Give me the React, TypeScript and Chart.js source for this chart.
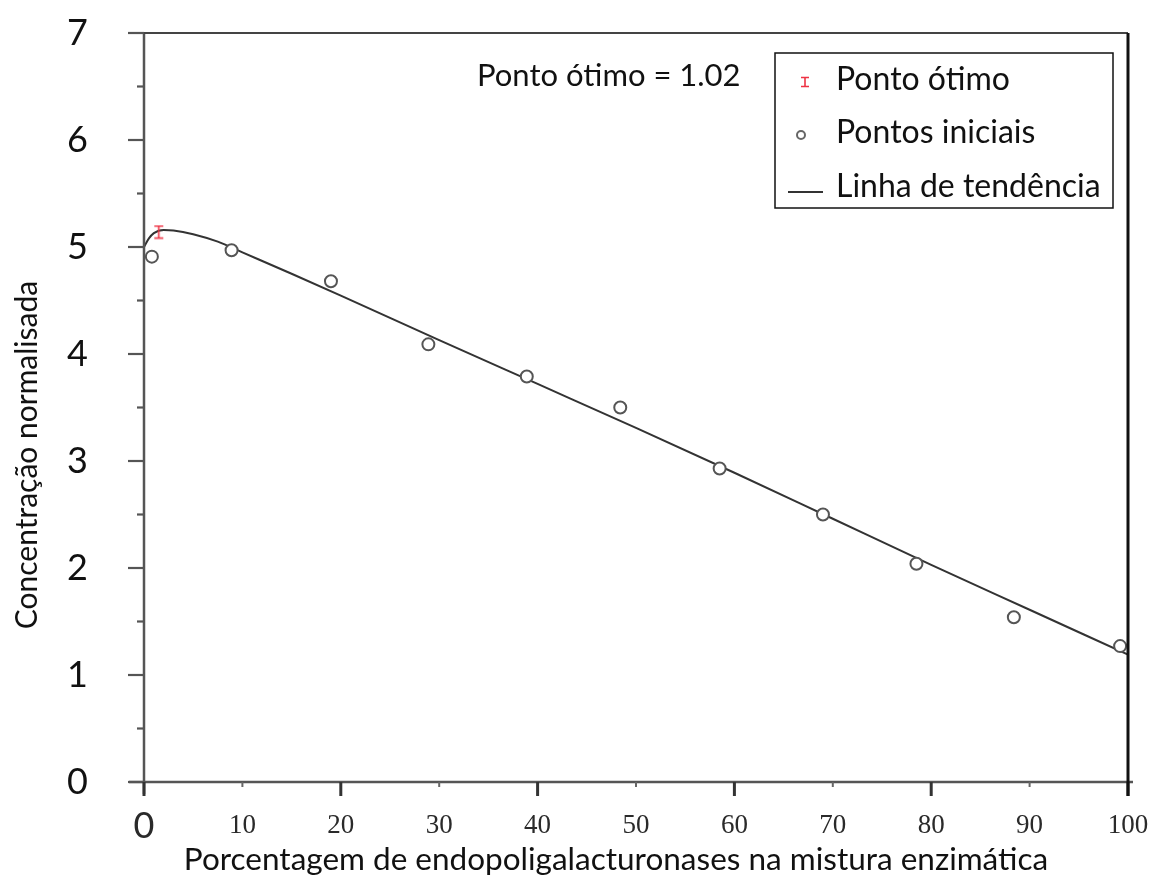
import React, { useEffect, useRef } from 'react';
import { Chart, registerables } from 'chart.js';

Chart.register(...registerables);

// ---------- data ----------
const initialX = [0.8, 8.9, 19.0, 28.9, 38.9, 48.4, 58.5, 69.0, 78.5, 88.4, 99.2];
const initialY = [4.91, 4.97, 4.68, 4.09, 3.79, 3.5, 2.93, 2.5, 2.04, 1.54, 1.27];

const optimumX = [1.5];
const optimumY = [5.14];

const trendX = [0, 0.5, 1, 2, 3, 5, 7.5, 10, 15, 20, 30, 40, 50, 60, 70, 80, 90, 100];
const trendY = [5.0, 5.08, 5.13, 5.16, 5.155, 5.12, 5.05, 4.95, 4.75, 4.545, 4.13, 3.72, 3.31, 2.89, 2.46, 2.03, 1.61, 1.19];

const xTickValues = [0, 10, 20, 30, 40, 50, 60, 70, 80, 90, 100];
const xTickLabels = ['0', '10', '20', '30', '40', '50', '60', '70', '80', '90', '100'];
const yTickValues = [0, 1, 2, 3, 4, 5, 6, 7];
const yTickLabels = ['0', '1', '2', '3', '4', '5', '6', '7'];

const xMajorMarks = [0, 20, 40, 60, 80, 100];
const xMinorMarks = [10, 30, 50, 70, 90];
const yMajorMarks = [0, 1, 2, 3, 4, 5, 6, 7];
const yMinorMarks = [0.5, 1.5, 2.5, 3.5, 4.5, 5.5, 6.5];

const legendLabels = ['Ponto ótimo', 'Pontos iniciais', 'Linha de tendência'];
const annotationText = 'Ponto ótimo = 1.02';
const xTitle = 'Porcentagem de endopoligalacturonases na mistura enzimática';
const yTitle = 'Concentração normalisada';

const SANS = 'Lato, "Noto Sans", sans-serif';
const SERIF = '"Liberation Serif", "DejaVu Serif", serif';
const RED = '#ee3344';

function makeIBeam(h: number, w: number): HTMLCanvasElement {
  const c = document.createElement('canvas');
  c.width = w + 2;
  c.height = h + 2;
  const g = c.getContext('2d')!;
  g.strokeStyle = RED;
  g.lineWidth = 1.6;
  const cx = c.width / 2;
  g.beginPath();
  g.moveTo(cx, 1);
  g.lineTo(cx, h + 1);
  g.moveTo(1, 1.5);
  g.lineTo(w + 1, 1.5);
  g.moveTo(1, h + 0.5);
  g.lineTo(w + 1, h + 0.5);
  g.stroke();
  return c;
}

const framePlugin = {
  id: 'frame',
  afterDatasetsDraw(chart: any) {
    const { ctx, chartArea, scales } = chart;
    const { left, right, top, bottom } = chartArea;
    const xs = scales.x;
    const ys = scales.y;
    ctx.save();
    ctx.lineCap = 'butt';

    // left axis
    ctx.strokeStyle = '#555';
    ctx.lineWidth = 2.5;
    ctx.beginPath();
    ctx.moveTo(left, top);
    ctx.lineTo(left, bottom + 12);
    ctx.stroke();

    // bottom axis
    ctx.beginPath();
    ctx.moveTo(left - 15, bottom);
    ctx.lineTo(right + 5, bottom);
    ctx.stroke();

    // top border
    ctx.strokeStyle = '#444';
    ctx.lineWidth = 2;
    ctx.beginPath();
    ctx.moveTo(left - 15, top);
    ctx.lineTo(right, top);
    ctx.stroke();

    // y ticks
    ctx.strokeStyle = '#555';
    ctx.lineWidth = 2.2;
    yMajorMarks.forEach((v) => {
      const py = ys.getPixelForValue(v);
      ctx.beginPath();
      ctx.moveTo(left - 16, py);
      ctx.lineTo(left, py);
      ctx.stroke();
    });
    yMinorMarks.forEach((v) => {
      const py = ys.getPixelForValue(v);
      ctx.beginPath();
      ctx.moveTo(left - 7, py);
      ctx.lineTo(left, py);
      ctx.stroke();
    });

    // x ticks
    ctx.strokeStyle = '#333';
    ctx.lineWidth = 3;
    xMajorMarks.forEach((v) => {
      const px = xs.getPixelForValue(v);
      ctx.beginPath();
      ctx.moveTo(px, bottom);
      ctx.lineTo(px, bottom + 14);
      ctx.stroke();
    });
    ctx.strokeStyle = '#666';
    ctx.lineWidth = 2;
    xMinorMarks.forEach((v) => {
      const px = xs.getPixelForValue(v);
      ctx.beginPath();
      ctx.moveTo(px, bottom);
      ctx.lineTo(px, bottom + 5);
      ctx.stroke();
    });

    // right border
    ctx.strokeStyle = '#111';
    ctx.lineWidth = 3;
    ctx.beginPath();
    ctx.moveTo(right, top);
    ctx.lineTo(right, bottom + 14);
    ctx.stroke();

    ctx.restore();
  },
  afterDraw(chart: any) {
    const { ctx } = chart;
    ctx.save();

    // annotation
    ctx.fillStyle = '#111';
    ctx.font = `31px ${SANS}`;
    ctx.textBaseline = 'middle';
    ctx.textAlign = 'left';
    ctx.fillText(annotationText, 477, 76);

    // legend box
    const bx = 775, by = 53, bw = 338, bh = 155;
    ctx.fillStyle = '#fff';
    ctx.fillRect(bx, by, bw, bh);
    ctx.strokeStyle = '#111';
    ctx.lineWidth = 1.5;
    ctx.strokeRect(bx, by, bw, bh);

    const rows = [80, 133, 187];
    ctx.font = `32px ${SANS}`;
    ctx.fillStyle = '#111';
    legendLabels.forEach((t, i) => ctx.fillText(t, 836, rows[i]));

    // symbols
    const ib = makeIBeam(10, 8);
    ctx.drawImage(ib, 805 - ib.width / 2, rows[0] + 2 - ib.height / 2);
    ctx.strokeStyle = '#666';
    ctx.lineWidth = 2;
    ctx.beginPath();
    ctx.arc(801, rows[1] + 2, 4, 0, Math.PI * 2);
    ctx.stroke();
    ctx.strokeStyle = '#333';
    ctx.lineWidth = 2;
    ctx.beginPath();
    ctx.moveTo(788, rows[2] + 5);
    ctx.lineTo(823, rows[2] + 5);
    ctx.stroke();

    // axis titles
    ctx.fillStyle = '#111';
    ctx.font = `31.5px ${SANS}`;
    ctx.textAlign = 'center';
    ctx.textBaseline = 'middle';
    ctx.fillText(xTitle, 616, 860);

    ctx.save();
    ctx.translate(27, 455);
    ctx.rotate(-Math.PI / 2);
    ctx.font = `30px ${SANS}`;
    ctx.fillText(yTitle, 0, 0);
    ctx.restore();

    ctx.restore();
  },
};

export default function App() {
  const ref = useRef<HTMLCanvasElement | null>(null);

  useEffect(() => {
    if (!ref.current) return;
    const optimumStyle = makeIBeam(13, 9);
    const chart = new Chart(ref.current, {
      type: 'scatter',
      data: {
        datasets: [
          {
            label: 'Linha de tendência',
            data: trendX.map((x, i) => ({ x, y: trendY[i] })),
            showLine: true,
            borderColor: '#333',
            borderWidth: 2,
            pointRadius: 0,
            cubicInterpolationMode: 'monotone',
            order: 3,
          } as any,
          {
            label: 'Pontos iniciais',
            data: initialX.map((x, i) => ({ x, y: initialY[i] })),
            showLine: false,
            pointStyle: 'circle',
            pointRadius: 6,
            pointBorderWidth: 2,
            pointBorderColor: '#555',
            pointBackgroundColor: '#fff',
            order: 2,
          } as any,
          {
            label: 'Ponto ótimo',
            data: optimumX.map((x, i) => ({ x, y: optimumY[i] })),
            showLine: false,
            pointStyle: optimumStyle,
            pointRadius: 7,
            order: 1,
          } as any,
        ],
      },
      options: {
        animation: false,
        responsive: false,
        layout: { padding: { top: 33, right: 34, left: 0, bottom: 0 } },
        plugins: {
          legend: { display: false },
          tooltip: { enabled: false },
        },
        scales: {
          x: {
            type: 'linear',
            min: 0,
            max: 100,
            grid: { display: false, drawTicks: false },
            border: { display: false },
            afterFit: (s: any) => {
              s.height = 94;
              s.paddingLeft = 0;
              s.paddingRight = 0;
            },
            afterBuildTicks: (s: any) => {
              s.ticks = xTickValues.map((v) => ({ value: v }));
            },
            ticks: {
              padding: 29,
              color: '#2a2a2a',
              maxRotation: 0,
              autoSkip: false,
              callback: (v: any) => xTickLabels[xTickValues.indexOf(Number(v))] ?? '',
              font: (c: any) =>
                c.tick && c.tick.value === 0
                  ? { family: SANS, size: 36, lineHeight: '30px' }
                  : { family: SERIF, size: 27, lineHeight: '30px' },
            },
          },
          y: {
            type: 'linear',
            min: 0,
            max: 7,
            grid: { display: false, drawTicks: false },
            border: { display: false },
            afterFit: (s: any) => {
              s.width = 144;
              s.paddingTop = 0;
              s.paddingBottom = 0;
            },
            afterBuildTicks: (s: any) => {
              s.ticks = yTickValues.map((v) => ({ value: v }));
            },
            ticks: {
              padding: 56,
              color: '#111',
              autoSkip: false,
              callback: (v: any) => yTickLabels[yTickValues.indexOf(Number(v))] ?? '',
              font: { family: SANS, size: 36 },
            },
          },
        },
      },
      plugins: [framePlugin],
    });
    return () => chart.destroy();
  }, []);

  return (
    <div style={{ position: 'fixed', left: 0, top: 0, width: 1162, height: 876, background: '#fff' }}>
      <canvas ref={ref} width={1162} height={876} style={{ display: 'block' }} />
    </div>
  );
}
